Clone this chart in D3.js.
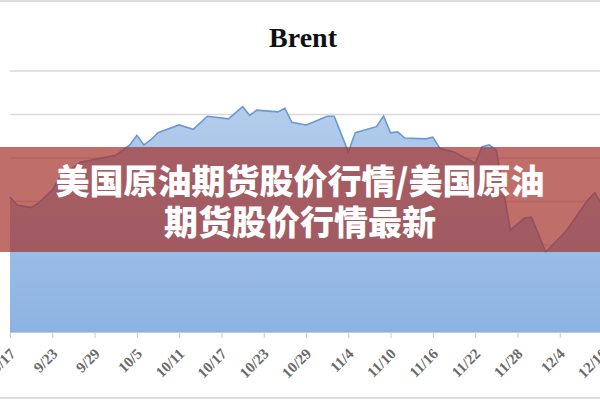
<!DOCTYPE html>
<html>
<head>
<meta charset="utf-8">
<script src="https://cdn.jsdelivr.net/npm/d3@7"></script>
<style>
  html, body { margin: 0; padding: 0; background: #fff; }
  svg { display: block; }
</style>
</head>
<body>
<div id="chart"></div>
<script>
// Brent prices (2013, trading days)
const dates = [
  "2013-09-17", "2013-09-18", "2013-09-20", "2013-09-21", "2013-09-23", "2013-09-24",
  "2013-09-27", "2013-09-30", "2013-10-02", "2013-10-04", "2013-10-05", "2013-10-06",
  "2013-10-07", "2013-10-08", "2013-10-11", "2013-10-13", "2013-10-15", "2013-10-18",
  "2013-10-20", "2013-10-21", "2013-10-22", "2013-10-25", "2013-10-26", "2013-10-27",
  "2013-10-29", "2013-10-30", "2013-11-01", "2013-11-02", "2013-11-04", "2013-11-05",
  "2013-11-08", "2013-11-09", "2013-11-10", "2013-11-11", "2013-11-12", "2013-11-15",
  "2013-11-16", "2013-11-17", "2013-11-19", "2013-11-22", "2013-11-23", "2013-11-24",
  "2013-11-25", "2013-11-27", "2013-11-29", "2013-11-30", "2013-12-02", "2013-12-03",
  "2013-12-05", "2013-12-08", "2013-12-09", "2013-12-10"
];
const brent = [
  105.5, 104.6, 104.3, 104.8, 106.3, 107.7,
  109.5, 110.0, 110.3, 111.5, 112.6, 111.5,
  112.1, 112.9, 113.8, 113.3, 114.8, 114.5,
  115.9, 114.9, 115.5, 115.3, 115.7, 114.1,
  113.8, 114.1, 114.8, 114.8, 110.7, 112.9,
  113.6, 114.8, 112.9, 113.0, 112.3, 112.2,
  112.4, 111.1, 110.7, 109.4, 111.3, 111.5,
  110.9, 101.7, 103.1, 103.2, 99.2, 100.0,
  101.7, 105.2, 106.0, 104.6
];
const tickLabels = ["9/17", "9/23", "9/29", "10/5", "10/11", "10/17", "10/23", "10/29",
  "11/4", "11/10", "11/16", "11/22", "11/28", "12/4", "12/10"];
const yTicks = [90, 95, 100, 105, 110, 115, 120];
const title = "Brent";
const bannerLines = ["美国原油期货股价行情/美国原油", "期货股价行情最新"];

const width = 600,
  height = 400,
  plot = {
    left: 10,
    right: 602,
    top: 71,
    bottom: 332
  };

const parseDate = d3.timeParse("%Y-%m-%d");
const parseTick = s => parseDate("2013-" + s.replace("/", "-"));
const data = dates.map((d, i) => ({date: parseDate(d), value: brent[i]}));

const x = d3.scaleTime()
  .domain([parseTick(tickLabels[0]), parseTick(tickLabels[tickLabels.length - 1])])
  .range([plot.left, plot.right]);

const y = d3.scaleLinear()
  .domain([yTicks[0], yTicks[yTicks.length - 1]])
  .range([plot.bottom, plot.top]);

const svg = d3.select("#chart")
  .append("svg")
  .attr("width", width)
  .attr("height", height);

// frame lines of the screenshot
svg.append("line")
  .attr("x1", 0).attr("x2", width).attr("y1", 1).attr("y2", 1)
  .attr("stroke", "#dcdcdc").attr("stroke-width", 2);
svg.append("line")
  .attr("x1", 0).attr("x2", width).attr("y1", height - 2).attr("y2", height - 2)
  .attr("stroke", "#dcdcdc").attr("stroke-width", 2);

svg.append("text")
  .attr("x", 303)
  .attr("y", 47)
  .attr("text-anchor", "middle")
  .attr("font-family", "'Liberation Serif', 'Times New Roman', serif")
  .attr("font-weight", "bold")
  .attr("font-size", 28)
  .attr("fill", "#111")
  .text(title);

// gridlines
svg.append("g")
  .attr("class", "grid")
  .selectAll("line")
  .data(yTicks.slice(1))
  .enter().append("line")
    .attr("x1", plot.left)
    .attr("x2", width)
    .attr("y1", d => y(d))
    .attr("y2", d => y(d))
    .attr("stroke", "#d9d9d9")
    .attr("stroke-width", 1.5);

const grad = svg.append("defs")
  .append("linearGradient")
  .attr("id", "fillGrad")
  .attr("x1", 0).attr("x2", 0).attr("y1", 0).attr("y2", 1);
grad.append("stop").attr("offset", "0%").attr("stop-color", "#b3cdec");
grad.append("stop").attr("offset", "100%").attr("stop-color", "#8cb3e2");

const area = d3.area()
  .x(d => x(d.date))
  .y0(plot.bottom)
  .y1(d => y(d.value));

const line = d3.line()
  .x(d => x(d.date))
  .y(d => y(d.value));

svg.append("path")
  .datum(data)
  .attr("d", area)
  .attr("fill", "url(#fillGrad)");

svg.append("path")
  .datum(data)
  .attr("d", line)
  .attr("fill", "none")
  .attr("stroke", "#6b98d3")
  .attr("stroke-width", 1.6);

// x axis
const xAxis = d3.axisBottom(x)
  .tickValues(tickLabels.map(parseTick))
  .tickFormat((d, i) => tickLabels[i])
  .tickSize(6)
  .tickSizeOuter(0);

const axisG = svg.append("g")
  .attr("transform", `translate(0,${plot.bottom})`)
  .call(xAxis);

axisG.select(".domain").attr("stroke", "#c8c8c8");
axisG.selectAll(".tick line").attr("stroke", "#c8c8c8");
axisG.selectAll(".tick text")
  .attr("x", 0)
  .attr("y", 0)
  .attr("dy", "0.35em")
  .attr("transform", "translate(2,19) rotate(-45)")
  .attr("text-anchor", "end")
  .attr("font-family", "'Liberation Serif', 'Times New Roman', serif")
  .attr("font-weight", "bold")
  .attr("font-size", 15)
  .attr("fill", "#6a6a6a");

// red banner with headline
svg.append("rect")
  .attr("x", 0)
  .attr("y", 147)
  .attr("width", width)
  .attr("height", 105)
  .attr("fill", "rgb(164,49,41)")
  .attr("fill-opacity", 0.7);

svg.append("g")
  .selectAll("text")
  .data(bannerLines)
  .enter().append("text")
    .attr("x", 300)
    .attr("y", (d, i) => 194 + i * 41)
    .attr("text-anchor", "middle")
    .attr("font-family", "'Noto Sans CJK SC', sans-serif")
    .attr("font-weight", 900)
    .attr("font-size", 34)
    .attr("fill", "#fff")
    .text(d => d);
</script>
</body>
</html>
